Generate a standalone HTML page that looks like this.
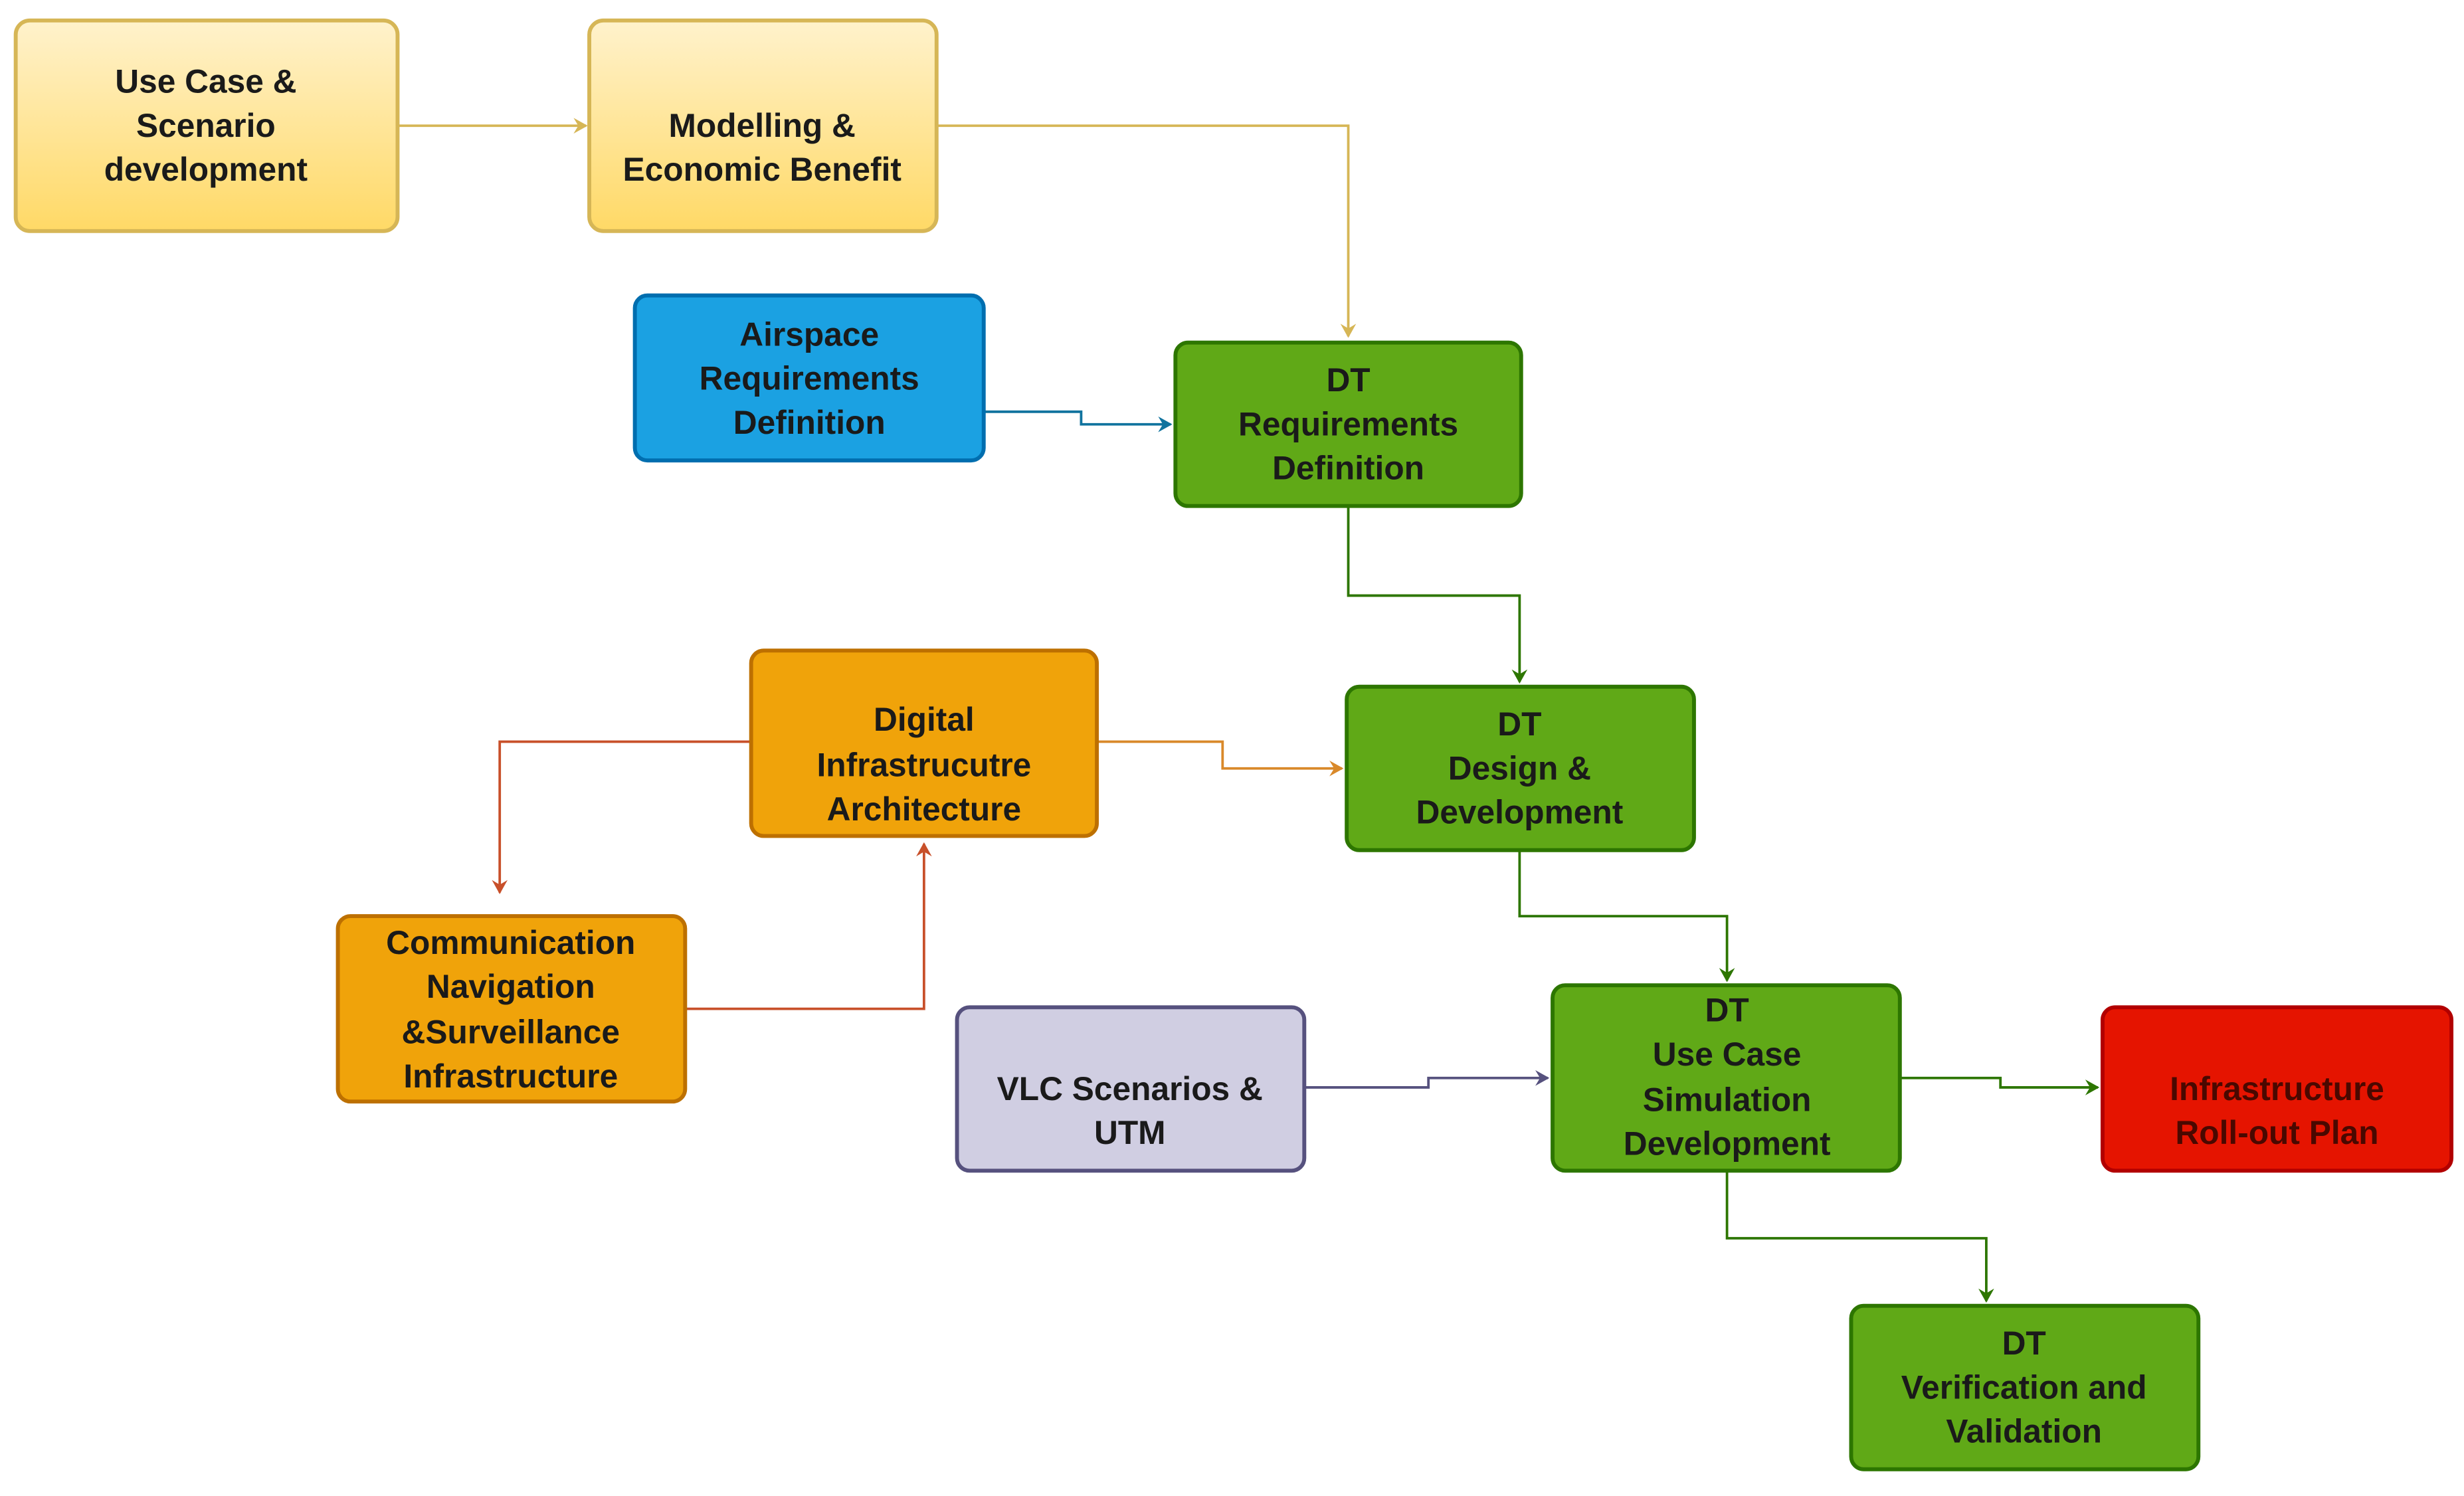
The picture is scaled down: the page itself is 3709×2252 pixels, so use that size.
<!DOCTYPE html>
<html><head><meta charset="utf-8"><style>
html,body{margin:0;padding:0;background:#fff;}
svg{display:block;}
text{font-family:"Liberation Sans",Arial,sans-serif;font-weight:bold;font-size:21px;fill:#1a1a1a;text-anchor:middle;}
</style></head><body>
<svg width="3709" height="2252" viewBox="0 0 1568 952" xmlns="http://www.w3.org/2000/svg">
<defs>
<linearGradient id="yg" x1="0" y1="0" x2="0" y2="1"><stop offset="0" stop-color="#fff2cc"/><stop offset="1" stop-color="#ffd966"/></linearGradient>
<marker id="aY" markerWidth="10" markerHeight="10" refX="8" refY="5" orient="auto" markerUnits="userSpaceOnUse"><path d="M0,0 L9,5 L0,10 L3,5z" fill="#d6b656"/></marker>
<marker id="aB" markerWidth="10" markerHeight="10" refX="8" refY="5" orient="auto" markerUnits="userSpaceOnUse"><path d="M0,0 L9,5 L0,10 L3,5z" fill="#10739e"/></marker>
<marker id="aG" markerWidth="10" markerHeight="10" refX="8" refY="5" orient="auto" markerUnits="userSpaceOnUse"><path d="M0,0 L9,5 L0,10 L3,5z" fill="#2d7600"/></marker>
<marker id="aO" markerWidth="10" markerHeight="10" refX="8" refY="5" orient="auto" markerUnits="userSpaceOnUse"><path d="M0,0 L9,5 L0,10 L3,5z" fill="#c8502a"/></marker>
<marker id="aA" markerWidth="10" markerHeight="10" refX="8" refY="5" orient="auto" markerUnits="userSpaceOnUse"><path d="M0,0 L9,5 L0,10 L3,5z" fill="#d9892a"/></marker>
<marker id="aP" markerWidth="10" markerHeight="10" refX="8" refY="5" orient="auto" markerUnits="userSpaceOnUse"><path d="M0,0 L9,5 L0,10 L3,5z" fill="#56517e"/></marker>
</defs>
<g fill="none" stroke-width="1.6">
<path d="M253,80 H373" stroke="#d6b656" marker-end="url(#aY)"/>
<path d="M596,80 H858 V214" stroke="#d6b656" marker-end="url(#aY)"/>
<path d="M626,262 H688 V270 H745" stroke="#10739e" marker-end="url(#aB)"/>
<path d="M858,322 V379 H967 V434" stroke="#2d7600" marker-end="url(#aG)"/>
<path d="M698,472 H778 V489 H854" stroke="#d9892a" marker-end="url(#aA)"/>
<path d="M478,472 H318 V568" stroke="#c8502a" marker-end="url(#aO)"/>
<path d="M436,642 H588 V537" stroke="#c8502a" marker-end="url(#aO)"/>
<path d="M967,541 V583 H1099 V624" stroke="#2d7600" marker-end="url(#aG)"/>
<path d="M830,692 H909 V686 H985" stroke="#56517e" marker-end="url(#aP)"/>
<path d="M1209,686 H1273 V692 H1335" stroke="#2d7600" marker-end="url(#aG)"/>
<path d="M1099,745 V788 H1264 V828" stroke="#2d7600" marker-end="url(#aG)"/>
</g>
<g stroke-width="2.5">
<rect x="10" y="13" width="243" height="134" rx="9" fill="url(#yg)" stroke="#d6b656"/>
<rect x="375" y="13" width="221" height="134" rx="9" fill="url(#yg)" stroke="#d6b656"/>
<rect x="404" y="188" width="222" height="105" rx="8" fill="#1ba1e2" stroke="#006eaf"/>
<rect x="748" y="218" width="220" height="104" rx="8" fill="#60a917" stroke="#2d7600"/>
<rect x="478" y="414" width="220" height="118" rx="8" fill="#f0a30a" stroke="#bd7000"/>
<rect x="857" y="437" width="221" height="104" rx="8" fill="#60a917" stroke="#2d7600"/>
<rect x="215" y="583" width="221" height="118" rx="8" fill="#f0a30a" stroke="#bd7000"/>
<rect x="609" y="641" width="221" height="104" rx="8" fill="#d0cee2" stroke="#56517e"/>
<rect x="988" y="627" width="221" height="118" rx="8" fill="#60a917" stroke="#2d7600"/>
<rect x="1338" y="641" width="222" height="104" rx="8" fill="#e51400" stroke="#b20000"/>
<rect x="1178" y="831" width="221" height="104" rx="8" fill="#60a917" stroke="#2d7600"/>
</g>
<text x="131" y="59">Use Case &amp;</text>
<text x="131" y="87">Scenario</text>
<text x="131" y="115">development</text>
<text x="485" y="87">Modelling &amp;</text>
<text x="485" y="115">Economic Benefit</text>
<text x="515" y="220">Airspace</text>
<text x="515" y="248">Requirements</text>
<text x="515" y="276">Definition</text>
<text x="858" y="249">DT</text>
<text x="858" y="277">Requirements</text>
<text x="858" y="305">Definition</text>
<text x="588" y="465">Digital</text>
<text x="588" y="494">Infrastrucutre</text>
<text x="588" y="522">Architecture</text>
<text x="967" y="468">DT</text>
<text x="967" y="496">Design &amp;</text>
<text x="967" y="524">Development</text>
<text x="325" y="607">Communication</text>
<text x="325" y="635">Navigation</text>
<text x="325" y="664">&amp;Surveillance</text>
<text x="325" y="692">Infrastructure</text>
<text x="719" y="700">VLC Scenarios &amp;</text>
<text x="719" y="728">UTM</text>
<text x="1099" y="650">DT</text>
<text x="1099" y="678">Use Case</text>
<text x="1099" y="707">Simulation</text>
<text x="1099" y="735">Development</text>
<text x="1449" y="700" fill="#5a0a00" style="fill:#4a0800">Infrastructure</text>
<text x="1449" y="728" style="fill:#4a0800">Roll-out Plan</text>
<text x="1288" y="862">DT</text>
<text x="1288" y="890">Verification and</text>
<text x="1288" y="918">Validation</text>
</svg>
</body></html>
